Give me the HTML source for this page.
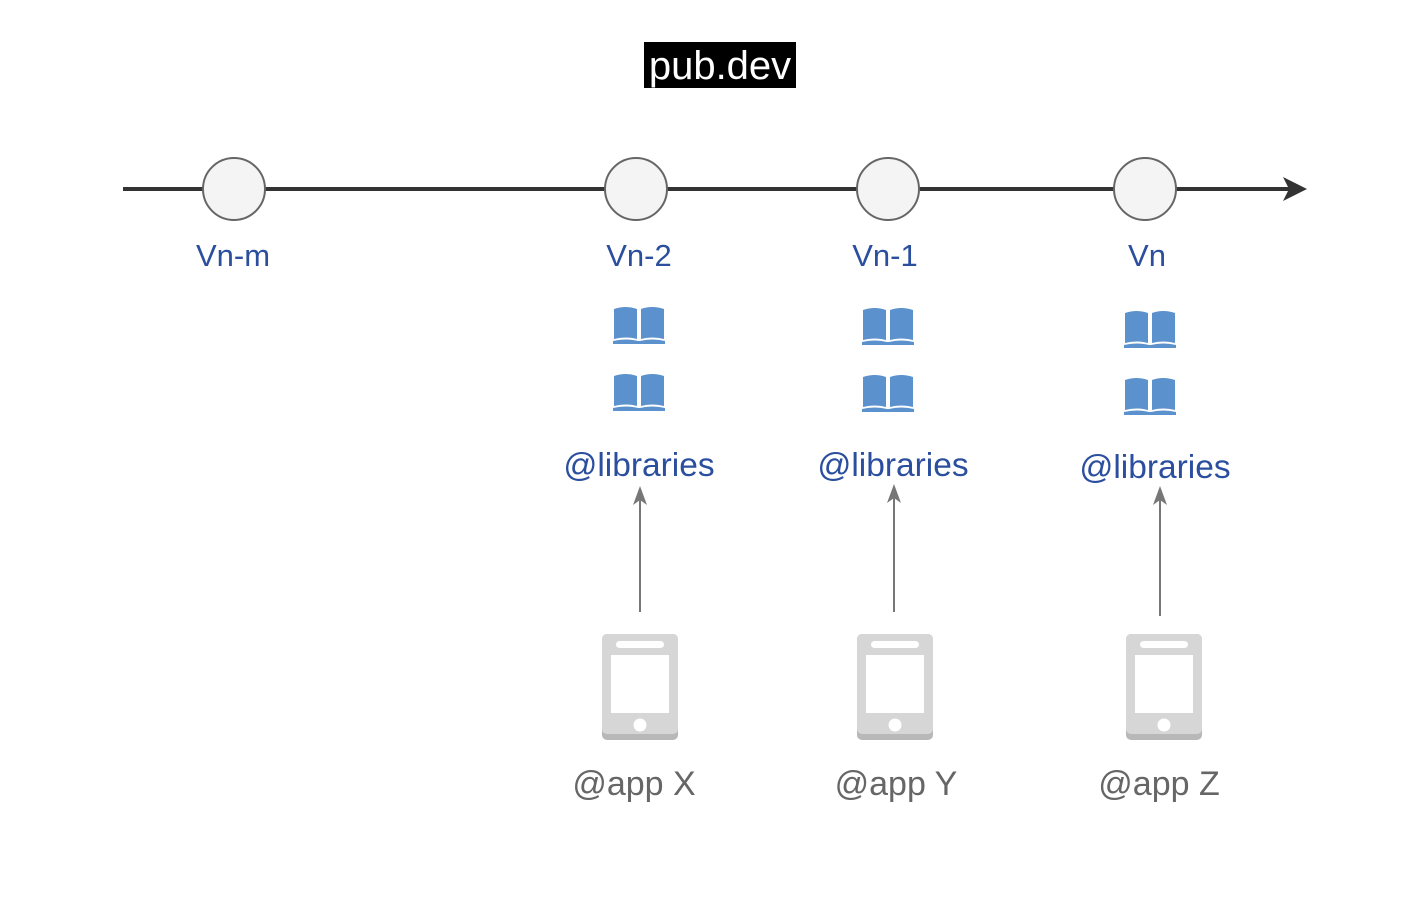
<!DOCTYPE html>
<html><head><meta charset="utf-8"><style>
html,body{margin:0;padding:0;background:#fff;}
svg{display:block;}
</style></head><body>
<svg width="1422" height="906" viewBox="0 0 1422 906" xmlns="http://www.w3.org/2000/svg" font-family="Liberation Sans, sans-serif">
<defs>
<g id="book">
<path d="M-25,-18 Q-13,-22 -2,-18 L-2,12 Q-13,9 -25,12 Z" fill="#5b91cc"/>
<path d="M2,-18 Q13,-22 25,-18 L25,12 Q13,9 2,12 Z" fill="#5b91cc"/>
<path d="M-26,14 Q-13,11 -1,14 L1,14 Q13,11 26,14 L26,17 L-26,17 Z" fill="#5b91cc"/>
</g>
<g id="phone">
<rect x="-38" y="0" width="76" height="106" rx="5" fill="#b8b8b8"/>
<rect x="-38" y="0" width="76" height="100" rx="5" fill="#d6d6d6"/>
<rect x="-29" y="21" width="58" height="58" fill="#fff"/>
<rect x="-24" y="7" width="48" height="7" rx="3.5" fill="#fff"/>
<circle cx="0" cy="91" r="6.5" fill="#fff"/>
</g>
</defs>
<rect x="644" y="42" width="152" height="46" fill="#000"/>
<text x="720" y="79" font-size="40" fill="#fff" text-anchor="middle">pub.dev</text>

<line x1="123" y1="189" x2="1292" y2="189" stroke="#333" stroke-width="4"/>
<path d="M1307,189 L1283,177 L1289,189 L1283,201 Z" fill="#333"/>
<g fill="#f4f4f4" stroke="#666" stroke-width="2">
<circle cx="234" cy="189" r="31"/>
<circle cx="636" cy="189" r="31"/>
<circle cx="888" cy="189" r="31"/>
<circle cx="1145" cy="189" r="31"/>
</g>
<g fill="#2b4f9e" font-size="31" text-anchor="middle">
<text x="233" y="266">Vn-m</text>
<text x="639" y="266">Vn-2</text>
<text x="885" y="266">Vn-1</text>
<text x="1147" y="266">Vn</text>
</g>
<use href="#book" x="639" y="327"/>
<use href="#book" x="639" y="394"/>
<use href="#book" x="888" y="328"/>
<use href="#book" x="888" y="395"/>
<use href="#book" x="1150" y="331"/>
<use href="#book" x="1150" y="398"/>
<g fill="#2b4f9e" font-size="33.5" text-anchor="middle">
<text x="639" y="476">@libraries</text>
<text x="893" y="476">@libraries</text>
<text x="1155" y="478">@libraries</text>
</g>
<g stroke="#777" stroke-width="2">
<line x1="640" y1="612" x2="640" y2="498"/>
<line x1="894" y1="612" x2="894" y2="496"/>
<line x1="1160" y1="616" x2="1160" y2="498"/>
</g>
<g fill="#777">
<path d="M640,486 L633,505 L640,500 L647,505 Z"/>
<path d="M894,484 L887,503 L894,498 L901,503 Z"/>
<path d="M1160,486 L1153,505 L1160,500 L1167,505 Z"/>
</g>
<use href="#phone" x="640" y="634"/>
<use href="#phone" x="895" y="634"/>
<use href="#phone" x="1164" y="634"/>
<g fill="#666" font-size="34" text-anchor="middle">
<text x="634" y="795">@app X</text>
<text x="896" y="795">@app Y</text>
<text x="1159" y="795">@app Z</text>
</g>
</svg>
</body></html>
